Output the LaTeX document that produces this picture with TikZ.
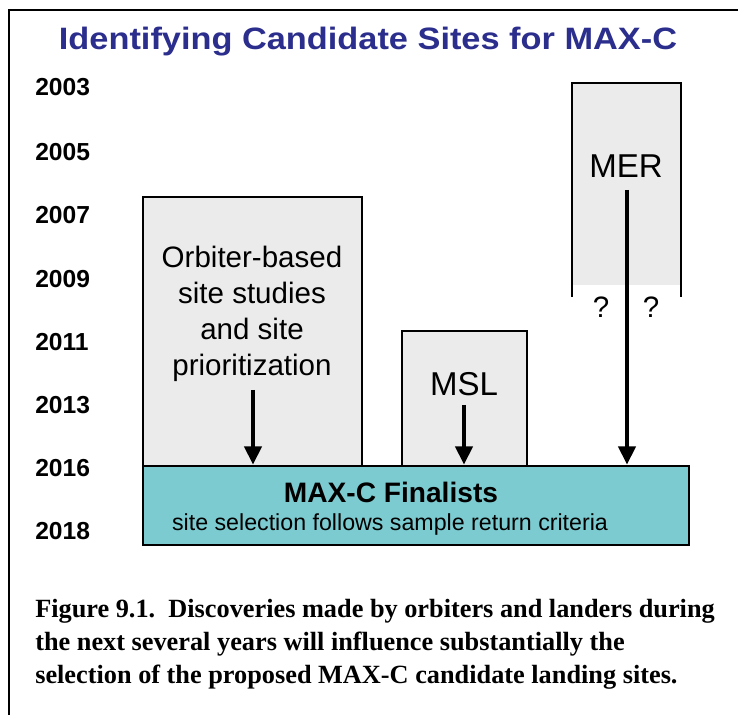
\documentclass[tikz,border=0pt]{standalone}
\usepackage{fontspec}
\setmainfont{Liberation Serif}
\setsansfont{Liberation Sans}
\usetikzlibrary{arrows.meta}
\definecolor{titleblue}{HTML}{2B2E8C}
\definecolor{boxgray}{HTML}{EBEBEB}
\definecolor{finteal}{HTML}{7BCBD0}

\begin{document}
\begin{tikzpicture}[x=0.025cm, y=-0.025cm,
    yearlabel/.style={font=\sffamily\bfseries\fontsize{17.5}{20}\selectfont, anchor=west, inner sep=0pt},
    boxtext/.style={font=\sffamily\fontsize{21}{25.5}\selectfont, align=center},
    bigtext/.style={font=\sffamily\fontsize{23.5}{26}\selectfont},
    captionline/.style={font=\bfseries\fontsize{18.7}{23}\selectfont, anchor=base west, inner sep=0pt},
    boxline/.style={line width=1.8pt},
    downarrow/.style={line width=3pt, -{Triangle[width=12pt,length=13pt]}}]
    \useasboundingbox (0,0) rectangle (738,715);

    % Frame, left and top edges only
    \draw[line width=1.2pt] (9,715) -- (9,10) -- (738,10);

    % Title
    \node[anchor=base, inner sep=0pt, font=\sffamily\bfseries\fontsize{22}{26}\selectfont, text=titleblue] (title) at (368,50) {\scalebox{1.11}[1]{Identifying Candidate Sites for MAX-C}};

    % Years down the left side
    \foreach \yr/\ypos in {2003/87, 2005/152, 2007/215, 2009/279, 2011/342, 2013/405, 2016/468, 2018/531}
        \node[yearlabel] (y\yr) at (35,\ypos) {\yr};

    % Orbiter box
    \draw[boxline, fill=boxgray] (143,197) rectangle (362,466);
    \node[boxtext] (orb) at (252,314) {Orbiter-based\\site studies\\and site\\prioritization};

    % MSL box
    \draw[boxline, fill=boxgray] (402,331) rectangle (527,466);
    \node[bigtext] (msl) at (464,384) {MSL};

    % MER box, open at the bottom
    \fill[boxgray] (572,83) rectangle (681,285);
    \draw[boxline] (572,297) -- (572,83) -- (681,83) -- (681,297);
    \node[bigtext] (mer) at (626,166) {MER};
    \node[boxtext] (q1) at (601,307) {?};
    \node[boxtext] (q2) at (651,307) {?};

    % Finalists bar
    \node[draw, boxline, fill=finteal, minimum width=13.65cm, minimum height=1.975cm, inner sep=0pt] (fin) at (416,505.5) {};
    \node[font=\sffamily\bfseries\fontsize{20}{24}\selectfont] (finhead) at (391,492) {MAX-C Finalists};
    \node[font=\sffamily\fontsize{16.5}{20}\selectfont] (finsub) at (390,525) {site selection follows sample return criteria};

    % Arrows into the finalists
    \coordinate (orbstart) at (253,390);
    \coordinate (mslstart) at (464,405);
    \coordinate (merstart) at (627,190);
    \draw[downarrow] (orbstart) -- (orbstart |- fin.north);
    \draw[downarrow] (mslstart) -- (mslstart |- fin.north);
    \draw[downarrow] (merstart) -- (merstart |- fin.north);

    % Caption
    \node[captionline] (cap1) at (35,617) {Figure 9.1.\enspace Discoveries made by orbiters and landers during};
    \node[captionline] (cap2) at (35,650) {the next several years will influence substantially the};
    \node[captionline] (cap3) at (35,683) {selection of the proposed MAX-C candidate landing sites.};
\end{tikzpicture}
\end{document}
